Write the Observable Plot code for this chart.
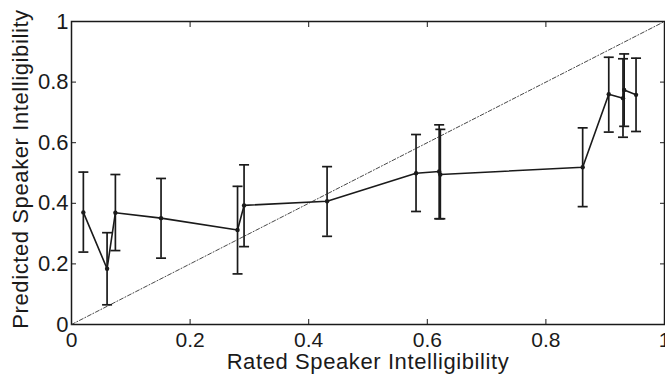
<!DOCTYPE html>
<html>
<head>
<meta charset="utf-8">
<script src="https://cdn.jsdelivr.net/npm/d3@7"></script>
<script src="https://cdn.jsdelivr.net/npm/@observablehq/plot@0.6"></script>
<style>
  html, body { margin: 0; padding: 0; background: #fff; }
  #chart svg { display: block; }
</style>
</head>
<body>
<div id="chart"></div>
<script>
// Data
const rated     = [0.020, 0.060, 0.074, 0.151, 0.280, 0.291, 0.431, 0.581, 0.620, 0.622, 0.862, 0.906, 0.930, 0.932, 0.952];
const predicted = [0.370, 0.184, 0.369, 0.351, 0.312, 0.393, 0.407, 0.499, 0.505, 0.495, 0.519, 0.760, 0.747, 0.774, 0.758];
const upper     = [0.503, 0.303, 0.495, 0.482, 0.456, 0.527, 0.521, 0.627, 0.659, 0.644, 0.649, 0.882, 0.877, 0.893, 0.879];
const lower     = [0.239, 0.065, 0.244, 0.219, 0.167, 0.257, 0.291, 0.373, 0.349, 0.349, 0.389, 0.635, 0.618, 0.654, 0.637];
const diagonal  = [0, 1];
const tickValues = [0, 0.2, 0.4, 0.6, 0.8, 1];
const xTitle = "Rated Speaker Intelligibility";
const yTitle = "Predicted Speaker Intelligibility";

const data = rated.map((x, i) => ({x, y: predicted[i], hi: upper[i], lo: lower[i]}));

// horizontal cap symbol for error bars
const capSymbol = {
  draw(context, size) {
    const w = Math.sqrt(size / Math.PI);
    context.moveTo(-w, 0);
    context.lineTo(w, 0);
  }
};

const ink = "#1a1a1a";
const fmt = d => d === 0 ? "0" : d === 1 ? "1" : String(d);

const chart = Plot.plot({
  width: 665,
  height: 374,
  marginLeft: 71,
  marginRight: 1,
  marginTop: 21,
  marginBottom: 50,
  style: {fontFamily: "'Liberation Sans', Arial, Helvetica, sans-serif", fontSize: "22px", color: ink, background: "#fff"},
  x: {domain: [0, 1]},
  y: {domain: [0, 1]},
  marks: [
    Plot.frame({stroke: ink, strokeWidth: 1.5}),
    Plot.axisX({anchor: "bottom", ticks: tickValues, tickSize: -5, tickPadding: 13, tickFormat: fmt, label: null, fontSize: 21}),
    Plot.axisX({anchor: "top", ticks: tickValues, tickSize: -5, tickFormat: () => "", label: null}),
    Plot.axisY({anchor: "left", ticks: tickValues, tickSize: -5, tickPadding: 8, tickFormat: fmt, label: null, fontSize: 22}),
    Plot.axisY({anchor: "right", ticks: tickValues, tickSize: -5, tickFormat: () => "", label: null}),
    Plot.line(diagonal, {x: d => d, y: d => d, stroke: "#333", strokeWidth: 0.9, strokeDasharray: "4,2,1,2"}),
    Plot.ruleX(data, {x: "x", y1: "lo", y2: "hi", stroke: ink, strokeWidth: 1.7}),
    Plot.dot(data, {x: "x", y: "hi", symbol: capSymbol, r: 5, stroke: ink, strokeWidth: 1.7, fill: "none"}),
    Plot.dot(data, {x: "x", y: "lo", symbol: capSymbol, r: 5, stroke: ink, strokeWidth: 1.7, fill: "none"}),
    Plot.line(data, {x: "x", y: "y", stroke: ink, strokeWidth: 1.6}),
    Plot.dot(data, {x: "x", y: "y", r: 2.2, fill: ink, stroke: "none"}),
    Plot.text([xTitle], {frameAnchor: "bottom", dy: 44, lineAnchor: "bottom", textAnchor: "middle", text: d => d, fontSize: 22, fill: ink}),
    Plot.text([yTitle], {frameAnchor: "left", dx: -44, dy: -4, rotate: -90, lineAnchor: "bottom", textAnchor: "middle", text: d => d, fontSize: 22, fill: ink})
  ]
});

chart.querySelectorAll("text").forEach(t => { if (t.textContent === xTitle || t.textContent === yTitle) t.style.letterSpacing = "0.6px"; });
document.getElementById("chart").appendChild(chart);
</script>
</body>
</html>
